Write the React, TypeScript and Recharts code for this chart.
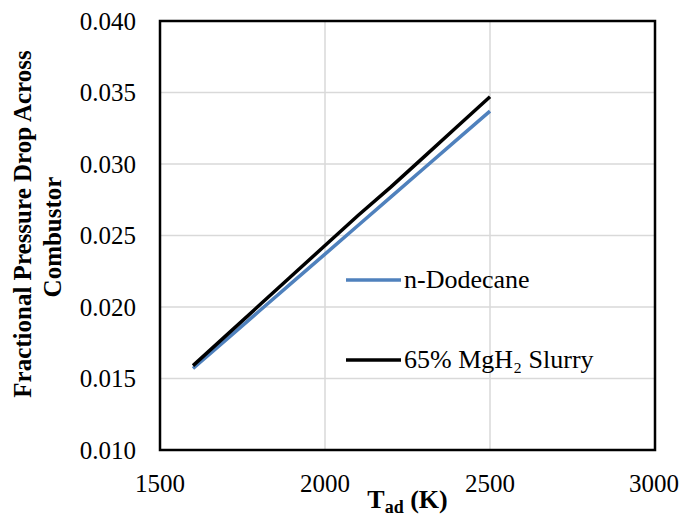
import React from "react";
import {
  LineChart,
  Line,
  XAxis,
  YAxis,
  CartesianGrid,
  ReferenceArea,
  Legend,
} from "recharts";

const temps = [1600, 1700, 1800, 1900, 2000, 2100, 2200, 2300, 2400, 2500];
const dodecane = [0.0157, 0.0177, 0.0197, 0.0217, 0.0237, 0.0257, 0.0277, 0.0297, 0.0317, 0.0337];
const slurry = [0.0159, 0.018, 0.0201, 0.0222, 0.0243, 0.0264, 0.0284, 0.0305, 0.0326, 0.0347];
const xTicks = [1500, 2000, 2500, 3000];
const yTicks = [0.01, 0.015, 0.02, 0.025, 0.03, 0.035, 0.04];

const FONT = "'Liberation Serif', 'DejaVu Serif', serif";
const BLUE = "#4f81bd";

const chartData = temps.map((t, i) => ({
  t,
  dodecane: dodecane[i],
  slurry: slurry[i],
}));

const legendItems = [
  { name: "n-Dodecane", color: BLUE },
  { name: "65% MgH\u2082 Slurry", color: "#000" },
];

function LegendBox() {
  return (
    <div style={{ fontFamily: FONT, fontSize: 26, color: "#000", lineHeight: 1 }}>
      {legendItems.map((item) => (
        <div
          key={item.name}
          style={{ display: "flex", alignItems: "center", height: 80, whiteSpace: "nowrap" }}
        >
          <svg width={57} height={6} style={{ marginRight: 1 }}>
            <line x1={0} y1={3} x2={55} y2={3} stroke={item.color} strokeWidth={3.5} />
          </svg>
          <span style={{ fontFamily: FONT, fontSize: 26 }}>{item.name}</span>
        </div>
      ))}
    </div>
  );
}

export default function App() {
  return (
    <div style={{ position: "absolute", left: 0, top: 0, background: "#fff" }}>
      <LineChart
        width={679}
        height={520}
        data={chartData}
        margin={{ top: 21, right: 24, left: 0, bottom: 0 }}
      >
        <CartesianGrid stroke="#d9d9d9" strokeWidth={1.5} horizontalValues={yTicks} verticalValues={xTicks} />
        <XAxis
          type="number"
          dataKey="t"
          domain={[1500, 3000]}
          ticks={xTicks}
          height={70}
          axisLine={false}
          tickLine={false}
          tickSize={0}
          tickMargin={24}
          tick={{ fontSize: 25, fill: "#000", fontFamily: FONT }}
          label={{
            content: ({ viewBox }: any) => {
              const cx = viewBox.x + viewBox.width / 2;
              return (
                <text
                  x={cx}
                  y={508}
                  textAnchor="middle"
                  fontFamily={FONT}
                  fontWeight="bold"
                  fontSize={26}
                  fill="#000"
                >
                  T<tspan fontSize={18} dy={5}>ad</tspan>
                  <tspan dy={-5}> (K)</tspan>
                </text>
              );
            },
          }}
        />
        <YAxis
          type="number"
          domain={[0.01, 0.04]}
          ticks={yTicks}
          width={160}
          axisLine={false}
          tickLine={false}
          tickSize={0}
          tickMargin={24}
          tickFormatter={(v: number) => v.toFixed(3)}
          tick={{ fontSize: 25, fill: "#000", fontFamily: FONT }}
          label={{
            content: () => (
              <g fontFamily={FONT} fontWeight="bold" fontSize={25} fill="#000">
                <text
                  x={22}
                  y={224}
                  textAnchor="middle"
                  dominantBaseline="central"
                  transform="rotate(-90 22 224)"
                >
                  Fractional Pressure Drop Across
                </text>
                <text
                  x={52}
                  y={237}
                  textAnchor="middle"
                  dominantBaseline="central"
                  transform="rotate(-90 52 237)"
                >
                  Combustor
                </text>
              </g>
            ),
          }}
        />
        <ReferenceArea
          x1={1500}
          x2={3000}
          y1={0.01}
          y2={0.04}
          fill="none"
          stroke="#000"
          strokeWidth={2.5}
          ifOverflow="visible"
        />
        <Line
          type="linear"
          dataKey="dodecane"
          name="n-Dodecane"
          stroke={BLUE}
          strokeWidth={3.5}
          dot={false}
          isAnimationActive={false}
        />
        <Line
          type="linear"
          dataKey="slurry"
          name="65% MgH2 Slurry"
          stroke="#000"
          strokeWidth={3.5}
          dot={false}
          isAnimationActive={false}
        />
        <Legend
          layout="vertical"
          align="center"
          verticalAlign="middle"
          content={() => <LegendBox />}
          wrapperStyle={{ left: 346, top: 240, width: 320, height: 160 }}
        />
      </LineChart>
    </div>
  );
}
